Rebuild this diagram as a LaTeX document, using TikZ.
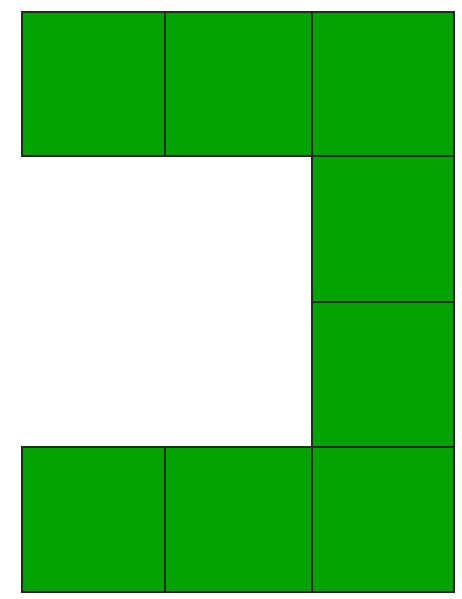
\documentclass[tikz,border=0pt]{standalone}
\definecolor{sqgreen}{RGB}{0,163,0}
\begin{document}
\begin{tikzpicture}[x=1pt,y=-1pt,cell/.style={fill=sqgreen,draw=black!85,line width=1.2pt}]
\useasboundingbox (0,0) rectangle (461,599);
% top row
\draw[cell] (22,12) rectangle (165,156);
\draw[cell] (165,12) rectangle (312,156);
\draw[cell] (312,12) rectangle (454,156);
% right column
\draw[cell] (312,156) rectangle (454,302);
\draw[cell] (312,302) rectangle (454,447);
% bottom row
\draw[cell] (22,447) rectangle (165,592);
\draw[cell] (165,447) rectangle (312,592);
\draw[cell] (312,447) rectangle (454,592);
\end{tikzpicture}
\end{document}
